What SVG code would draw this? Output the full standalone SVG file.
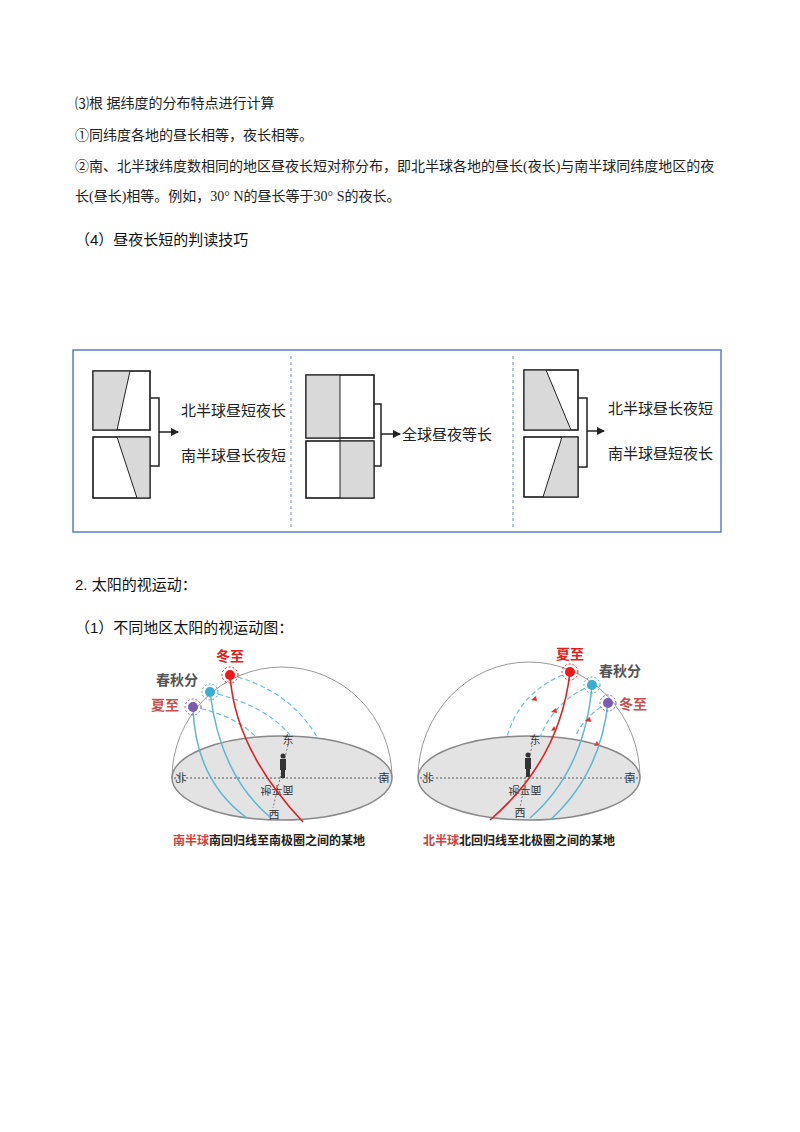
<svg xmlns="http://www.w3.org/2000/svg" width="800" height="1132" viewBox="0 0 800 1132">
<style>
.t{font-family:"Liberation Serif","Noto Sans CJK SC",serif;font-size:14px;fill:#222}
.h{font-family:"Liberation Sans","Noto Sans CJK SC",sans-serif;font-size:15px;fill:#111}
.c{font-family:"Liberation Serif","Noto Sans CJK SC",serif;font-size:15px;fill:#222}
.r{fill:#fff;stroke:#222;stroke-width:1.2}
.g{fill:#d9d9d9}
.br{fill:none;stroke:#222;stroke-width:1.5}
.lab{font-family:"Noto Sans CJK SC",sans-serif;font-size:14px;font-weight:bold}
.cap{font-family:"Noto Sans CJK SC",sans-serif;font-size:12px;font-weight:bold;fill:#222}
.sm{font-family:"Noto Sans CJK SC",sans-serif;font-size:11px;fill:#333}
.dome{fill:none;stroke:#999;stroke-width:1}
.gr{fill:#e3e3e3;stroke:#888;stroke-width:1.5}
.cy{fill:none;stroke:#5bb8cf;stroke-width:1.5}
.rd{fill:none;stroke:#e02020;stroke-width:1.6}
.dcy{fill:none;stroke:#6cc0d8;stroke-width:1.2;stroke-dasharray:5 3}
</style>
<defs>
<marker id="ar" markerWidth="8" markerHeight="8" refX="7" refY="4" orient="auto" markerUnits="userSpaceOnUse"><path d="M0,0 L8,4 L0,8 Z" fill="#222"/></marker>
</defs>
<g id="text">
<text class="t" x="75" y="108">⑶根 据纬度的分布特点进行计算</text>
<text class="t" x="75" y="140">①同纬度各地的昼长相等，夜长相等。</text>
<text class="t" x="75" y="171">②南、北半球纬度数相同的地区昼夜长短对称分布，即北半球各地的昼长(夜长)与南半球同纬度地区的夜</text>
<text class="t" x="75" y="201">长(昼长)相等。例如，30° N的昼长等于30° S的夜长。</text>
<text class="h" x="75" y="245">（4）昼夜长短的判读技巧</text>
<text class="h" x="75" y="590">2. 太阳的视运动：</text>
<text class="h" x="75" y="633">（1）不同地区太阳的视运动图：</text>
</g>
<g id="box">
<rect x="73" y="350" width="648" height="182" fill="#fff" stroke="#5a7fc0" stroke-width="1.5"/>
<line x1="291" y1="356" x2="291" y2="528" stroke="#6a8fd0" stroke-dasharray="3 3"/>
<line x1="513" y1="356" x2="513" y2="528" stroke="#6a8fd0" stroke-dasharray="3 3"/>
</g>
<g id="panel1">
<rect class="r" x="93" y="371" width="57" height="59"/>
<polygon class="g" points="93,371 130,371 117,430 93,430"/>
<line x1="130" y1="371" x2="117" y2="430" stroke="#222"/>
<rect class="r" x="93" y="437" width="57" height="61"/>
<polygon class="g" points="117,437 150,437 150,498 137,498"/>
<line x1="117" y1="437" x2="137" y2="498" stroke="#222"/>
<rect x="93" y="371" width="57" height="59" fill="none" stroke="#222" stroke-width="1.2"/>
<rect x="93" y="437" width="57" height="61" fill="none" stroke="#222" stroke-width="1.2"/>
<path class="br" d="M150,398 H159 V466 H150"/>
<line x1="159" y1="432" x2="178" y2="432" stroke="#222" stroke-width="1.5" marker-end="url(#ar)"/>
<text class="c" x="181" y="416">北半球昼短夜长</text>
<text class="c" x="181" y="461">南半球昼长夜短</text>
</g>
<g id="panel2">
<rect class="r" x="306" y="375" width="68" height="63"/>
<rect class="g" x="306" y="375" width="34" height="63"/>
<rect class="r" x="306" y="441" width="68" height="57"/>
<rect class="g" x="340" y="441" width="34" height="57"/>
<rect x="306" y="375" width="68" height="63" fill="none" stroke="#222" stroke-width="1.2"/>
<rect x="306" y="441" width="68" height="57" fill="none" stroke="#222" stroke-width="1.2"/>
<line x1="340" y1="375" x2="340" y2="498" stroke="#222"/>
<path class="br" d="M374,404 H381 V466 H374"/>
<line x1="381" y1="434" x2="400" y2="434" stroke="#222" stroke-width="1.5" marker-end="url(#ar)"/>
<text class="c" x="402" y="440">全球昼夜等长</text>
</g>
<g id="panel3">
<rect class="r" x="524" y="370" width="54" height="60"/>
<polygon class="g" points="524,370 546,370 571,430 524,430"/>
<line x1="546" y1="370" x2="571" y2="430" stroke="#222"/>
<rect class="r" x="524" y="437" width="54" height="60"/>
<polygon class="g" points="562,437 578,437 578,497 543,497"/>
<line x1="562" y1="437" x2="543" y2="497" stroke="#222"/>
<rect x="524" y="370" width="54" height="60" fill="none" stroke="#222" stroke-width="1.2"/>
<rect x="524" y="437" width="54" height="60" fill="none" stroke="#222" stroke-width="1.2"/>
<path class="br" d="M578,398 H587 V467 H578"/>
<line x1="587" y1="431" x2="604" y2="431" stroke="#222" stroke-width="1.5" marker-end="url(#ar)"/>
<text class="c" x="608" y="414">北半球昼长夜短</text>
<text class="c" x="608" y="459">南半球昼短夜长</text>
</g>
<g id="left-diagram">
<path class="dome" d="M172,778 A110,111 0 0 1 392,778"/>
<ellipse class="gr" cx="282" cy="778" rx="110" ry="42"/>
<line x1="174" y1="778" x2="390" y2="778" stroke="#555" stroke-dasharray="2 2"/>
<line x1="288" y1="745" x2="273" y2="808" stroke="#777" stroke-dasharray="2 2"/>
<text class="sm" transform="translate(181,782) scale(-1,1)" text-anchor="middle" font-size="12">北</text>
<text class="sm" transform="translate(384,782) scale(-1,1)" text-anchor="middle" font-size="12">南</text>
<text class="sm" x="288" y="744" text-anchor="middle" font-size="12">东</text>
<text class="sm" x="274" y="819" text-anchor="middle" font-size="12">西</text>
<text class="sm" transform="translate(277,786) scale(1,-1)" text-anchor="middle" font-size="8">地平面</text>
<g fill="#333"><circle cx="283" cy="756" r="2.5"/><rect x="280" y="759" width="6" height="11"/><rect x="281" y="769" width="4" height="9"/></g>
<path class="dcy" d="M230,675 Q290,690 317,737"/>
<path class="dcy" d="M210,692 Q265,705 290,735"/>
<path class="dcy" d="M193,707 Q235,715 256,737"/>
<path class="cy" d="M193,707 Q195,780 247,818"/>
<path class="cy" d="M210,692 Q220,775 270,817"/>
<path class="rd" d="M230,675 Q235,750 303,822"/>
<circle cx="230" cy="675" r="5" fill="#f01818"/><circle cx="230" cy="675" r="8" fill="none" stroke="#f01818" stroke-dasharray="2 2"/>
<circle cx="210" cy="692" r="5" fill="#3aaed0"/><circle cx="210" cy="692" r="8" fill="none" stroke="#3aaed0" stroke-dasharray="2 2"/>
<circle cx="193" cy="707" r="5" fill="#7a5cb0"/><circle cx="193" cy="707" r="8" fill="none" stroke="#7a5cb0" stroke-dasharray="2 2"/>
<text class="lab" x="230" y="661" text-anchor="middle" fill="#e02020">冬至</text>
<text class="lab" x="177" y="685" text-anchor="middle" fill="#555">春秋分</text>
<text class="lab" x="165" y="710" text-anchor="middle" fill="#c8504f">夏至</text>
<text class="cap" x="173" y="845"><tspan fill="#d04040">南半球</tspan>南回归线至南极圈之间的某地</text>
</g>
<g id="right-diagram">
<path class="dome" d="M418,778 A111,116 0 0 1 640,778"/>
<ellipse class="gr" cx="529" cy="778" rx="111" ry="42"/>
<line x1="420" y1="778" x2="638" y2="778" stroke="#555" stroke-dasharray="2 2"/>
<line x1="532" y1="745" x2="520" y2="808" stroke="#777" stroke-dasharray="2 2"/>
<text class="sm" transform="translate(428,782) scale(-1,1)" text-anchor="middle" font-size="12">北</text>
<text class="sm" transform="translate(630,782) scale(-1,1)" text-anchor="middle" font-size="12">南</text>
<text class="sm" x="535" y="744" text-anchor="middle" font-size="12">东</text>
<text class="sm" x="520" y="817" text-anchor="middle" font-size="12">西</text>
<text class="sm" transform="translate(525,786) scale(1,-1)" text-anchor="middle" font-size="8">地平面</text>
<g fill="#333"><circle cx="528" cy="755" r="2.5"/><rect x="525" y="758" width="6" height="11"/><rect x="526" y="768" width="4" height="9"/></g>
<path class="dcy" d="M570,672 Q520,690 507,737"/>
<path class="dcy" d="M592,685 Q555,700 540,737"/>
<path class="dcy" d="M608,703 Q585,715 575,737"/>
<path class="rd" d="M570,672 Q560,760 490,820"/>
<path class="cy" d="M592,685 Q585,770 530,818"/>
<path class="cy" d="M608,703 Q600,775 550,820"/>
<circle cx="570" cy="672" r="5" fill="#f01818"/><circle cx="570" cy="672" r="8" fill="none" stroke="#f01818" stroke-dasharray="2 2"/>
<circle cx="592" cy="685" r="5" fill="#3aaed0"/><circle cx="592" cy="685" r="8" fill="none" stroke="#3aaed0" stroke-dasharray="2 2"/>
<circle cx="608" cy="703" r="5" fill="#7a5cb0"/><circle cx="608" cy="703" r="8" fill="none" stroke="#7a5cb0" stroke-dasharray="2 2"/>
<g fill="#e03030">
<path d="M536,696 l-5,4 l6,1 z"/>
<path d="M556,708 l-5,4 l6,1 z"/>
<path d="M590,717 l-5,4 l6,1 z"/>
<path d="M554,726 l-3,5 l5,-1 z"/>
<path d="M597,741 l-3,5 l5,-1 z"/>
</g>
<text class="lab" x="570" y="659" text-anchor="middle" fill="#e02020">夏至</text>
<text class="lab" x="620" y="676" text-anchor="middle" fill="#555">春秋分</text>
<text class="lab" x="633" y="709" text-anchor="middle" fill="#c8504f">冬至</text>
<text class="cap" x="423" y="845"><tspan fill="#d04040">北半球</tspan>北回归线至北极圈之间的某地</text>
</g>
</svg>
